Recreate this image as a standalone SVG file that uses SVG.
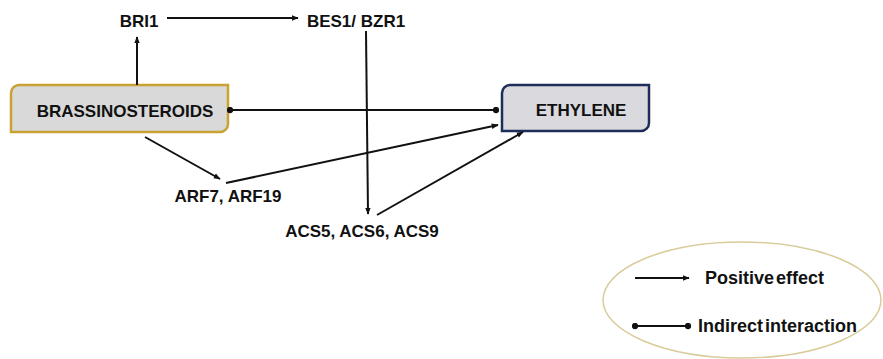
<svg xmlns="http://www.w3.org/2000/svg" width="883" height="359" viewBox="0 0 883 359">
<defs>
<marker id="arr" viewBox="0 0 10 10" refX="9" refY="5" markerWidth="7" markerHeight="7" markerUnits="userSpaceOnUse" orient="auto"><path d="M0,1 L10,5 L0,9 Z" fill="#111"/></marker>
<marker id="dot" viewBox="0 0 10 10" refX="5" refY="5" markerWidth="7" markerHeight="7" markerUnits="userSpaceOnUse" orient="auto"><circle cx="5" cy="5" r="4.5" fill="#111"/></marker>
</defs>
<style>
text{font-family:"Liberation Sans",Arial,sans-serif;font-weight:bold;fill:#111;}
.lbl{font-size:17px;}
.leg{font-size:18px;word-spacing:-3px;}
.c{stroke:#111;stroke-width:2;fill:none;}
</style>
<rect width="883" height="359" fill="#fff"/>
<g id="brassinosteroids">
<path d="M11,93 A8,8 0 0 1 19,85 H228 V124 A8,8 0 0 1 220,132 H11 Z" fill="#d9d9d9" stroke="#c9a233" stroke-width="2.5"/>
<text class="lbl" x="125" y="117" text-anchor="middle">BRASSINOSTEROIDS</text>
</g>
<g id="ethylene">
<path d="M502,93 A8,8 0 0 1 510,85 H649 V123 A8,8 0 0 1 641,131 H502 Z" fill="#d9d9de" stroke="#1f2d5a" stroke-width="2.5"/>
<text class="lbl" x="581" y="116" text-anchor="middle">ETHYLENE</text>
</g>
<g id="bri1"><text class="lbl" x="139" y="27" text-anchor="middle">BRI1</text></g>
<g id="bes1"><text class="lbl" x="356" y="27" text-anchor="middle">BES1/ BZR1</text></g>
<g id="arf"><text class="lbl" x="228" y="202" text-anchor="middle">ARF7, ARF19</text></g>
<g id="acs"><text class="lbl" x="362" y="237" text-anchor="middle">ACS5, ACS6, ACS9</text></g>
<g id="connectors">
<line class="c" x1="137" y1="85" x2="137" y2="37" marker-end="url(#arr)"/>
<line class="c" x1="167" y1="18" x2="298" y2="18" marker-end="url(#arr)"/>
<line class="c" x1="230" y1="110" x2="496" y2="110" marker-start="url(#dot)" marker-end="url(#dot)"/>
<line class="c" x1="366" y1="31" x2="368" y2="214" marker-end="url(#arr)"/>
<line class="c" x1="145" y1="137" x2="220" y2="179" marker-end="url(#arr)"/>
<line class="c" x1="226" y1="183" x2="498" y2="125" marker-end="url(#arr)"/>
<line class="c" x1="377" y1="215" x2="523" y2="132" marker-end="url(#arr)"/>
</g>
<g id="legend">
<ellipse cx="742" cy="300" rx="139" ry="58" fill="none" stroke="#d8cc9a" stroke-width="1.5"/>
<line class="c" x1="635" y1="278" x2="689" y2="278" marker-end="url(#arr)"/>
<text class="leg" x="705" y="284">Positive effect</text>
<line class="c" x1="635" y1="326" x2="688" y2="326" marker-start="url(#dot)" marker-end="url(#dot)"/>
<text class="leg" x="698" y="332">Indirect interaction</text>
</g>
</svg>
